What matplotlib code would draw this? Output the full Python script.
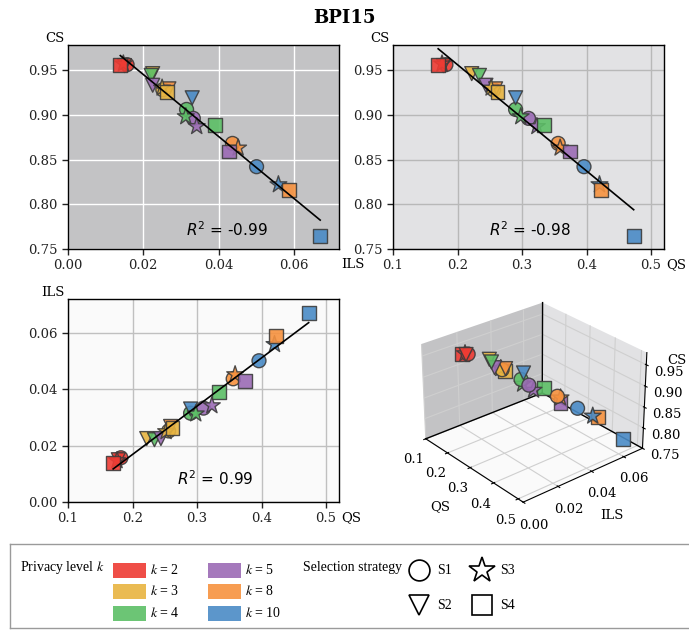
import numpy as np
import matplotlib
matplotlib.use('Agg')
import matplotlib.pyplot as plt
from matplotlib.patches import Rectangle

plt.rcParams['font.family'] = 'DejaVu Serif'
plt.rcParams['grid.color'] = '#cfcfcf'

# privacy levels (rows) and selection strategies (columns)
k_values = [2, 3, 4, 5, 8, 10]
strategies = ['S1', 'S2', 'S3', 'S4']
k_colors = ['#ee3b33', '#e8b440', '#5cbf66', '#9b6bb5', '#f7923f', '#4a8bc6']
s_markers = ['o', 'v', '*', 's']

#               S1      S2      S3      S4
qs = np.array([[0.182, 0.178, 0.176, 0.170],   # k=2
               [0.256, 0.222, 0.252, 0.262],   # k=3
               [0.290, 0.234, 0.298, 0.334],   # k=4
               [0.310, 0.244, 0.323, 0.375],   # k=5
               [0.356, 0.259, 0.359, 0.422],   # k=8
               [0.396, 0.290, 0.420, 0.473]])  # k=10

ils = np.array([[0.0157, 0.0150, 0.0147, 0.0139],
                [0.0252, 0.0225, 0.0250, 0.0262],
                [0.0315, 0.0221, 0.0313, 0.0390],
                [0.0333, 0.0225, 0.0342, 0.0428],
                [0.0437, 0.0268, 0.0452, 0.0588],
                [0.0501, 0.0330, 0.0559, 0.0670]])

cs = np.array([[0.956, 0.955, 0.957, 0.956],
               [0.928, 0.946, 0.930, 0.925],
               [0.906, 0.944, 0.898, 0.889],
               [0.896, 0.933, 0.887, 0.859],
               [0.868, 0.929, 0.863, 0.816],
               [0.842, 0.919, 0.822, 0.765]])

r_ils_cs = '-0.99'
r_qs_cs = '-0.98'
r_qs_ils = '0.99'

pane_x = '#c3c3c5'   # ILS-CS plane
pane_y = '#e2e2e4'   # QS-CS plane
pane_z = '#fafafa'   # QS-ILS plane

qs_lim, ils_lim, cs_lim = (0.1, 0.52), (0.0, 0.072), (0.75, 0.978)
qs_ticks = [0.1, 0.2, 0.3, 0.4, 0.5]
ils_ticks = [0.00, 0.02, 0.04, 0.06]
cs_ticks = [0.75, 0.80, 0.85, 0.90, 0.95]

MS = 100
EDGE = '#3c3c3c'


def panel(ax, x, y, r, face, gcolor, xlabel, ylabel, xlim, ylim, xticks, yticks,
          xfmt, yfmt, rpos):
    ax.set_facecolor(face)
    ax.grid(True, color=gcolor, lw=1.0)
    ax.set_axisbelow(True)
    for j, m in enumerate(s_markers):
        size = MS * 1.6 if m == '*' else MS
        ax.scatter(x[:, j], y[:, j], c=k_colors, marker=m, s=size,
                   edgecolors=EDGE, linewidths=1.0, alpha=0.9, zorder=3)
    slope, icpt = np.polyfit(x.ravel(), y.ravel(), 1)
    xs = np.array([x.min(), x.max()])
    ax.plot(xs, slope * xs + icpt, color='black', lw=1.2, zorder=4)
    ax.set_xlim(*xlim)
    ax.set_ylim(*ylim)
    ax.set_xticks(xticks)
    ax.set_yticks(yticks)
    ax.set_xticklabels([xfmt.format(v) for v in xticks])
    ax.set_yticklabels([yfmt.format(v) for v in yticks])
    ax.tick_params(direction='out', length=4, width=1, colors='#222222',
                   labelsize=9.5)
    for sp in ax.spines.values():
        sp.set_color('black')
        sp.set_linewidth(1.0)
    ax.set_ylabel(ylabel, rotation=0, ha='right', va='bottom', fontsize=9.5)
    ax.yaxis.set_label_coords(-0.012, 1.0)
    ax.set_xlabel(xlabel, ha='left', va='center', fontsize=9.5)
    ax.xaxis.set_label_coords(1.01, -0.078)
    ax.text(rpos[0], rpos[1], '$R^2$ = ' + r, transform=ax.transAxes,
            ha='center', va='center', fontsize=11, family='DejaVu Sans',
            math_fontfamily='dejavusans', zorder=5)


fig = plt.figure(figsize=(6.89, 6.30), dpi=100)
fig.text(0.5, 0.971, 'BPI15', ha='center', va='center', fontsize=13,
         fontweight='bold')

ax1 = fig.add_axes([68 / 689, 381 / 630, 271 / 689, 204 / 630])
panel(ax1, ils, cs, r_ils_cs, pane_x, 'white', 'ILS', 'CS', (0.0, 0.072), cs_lim,
      ils_ticks, cs_ticks, '{:.2f}', '{:.2f}', (0.587, 0.093))

ax2 = fig.add_axes([393 / 689, 381 / 630, 271 / 689, 204 / 630])
panel(ax2, qs, cs, r_qs_cs, pane_y, '#b8b8b8', 'QS', 'CS', qs_lim, cs_lim,
      qs_ticks, cs_ticks, '{:.1f}', '{:.2f}', (0.504, 0.093))

ax3 = fig.add_axes([68 / 689, 128 / 630, 271 / 689, 203 / 630])
panel(ax3, qs, ils, r_qs_ils, pane_z, '#c0c0c0', 'QS', 'ILS', qs_lim, ils_lim,
      qs_ticks, ils_ticks, '{:.1f}', '{:.2f}', (0.543, 0.113))

# 3D view
ax4 = fig.add_axes([0.562, 0.175, 0.415, 0.38], projection='3d')
for j, m in enumerate(s_markers):
    size = MS * 1.6 if m == '*' else MS
    ax4.scatter(qs[:, j], ils[:, j], cs[:, j], c=k_colors, marker=m, s=size,
                edgecolors=EDGE, linewidths=1.0, alpha=0.9, depthshade=False)
ax4.set_xlim(*qs_lim)
ax4.set_ylim(*ils_lim)
ax4.set_zlim(*cs_lim)
ax4.set_box_aspect((4, 4, 2.75))
ax4.set_xticks(qs_ticks)
ax4.set_yticks(ils_ticks)
ax4.set_zticks(cs_ticks)
ax4.set_xticklabels(['{:.1f}'.format(v) for v in qs_ticks])
ax4.set_yticklabels(['{:.2f}'.format(v) for v in ils_ticks])
ax4.set_zticklabels(['{:.2f}'.format(v) for v in cs_ticks])
ax4.tick_params(labelsize=9.5, pad=1)
ax4.xaxis.set_pane_color(pane_x)
ax4.yaxis.set_pane_color(pane_y)
ax4.zaxis.set_pane_color(pane_z)
for a in (ax4.xaxis, ax4.yaxis, ax4.zaxis):
    a.pane.set_edgecolor('none')
    a.line.set_color('black')
ax4.set_xlabel('QS', fontsize=9.5, labelpad=2)
ax4.set_ylabel('ILS', fontsize=9.5, labelpad=2)
ax4.set_zlabel('')
fig.text(667 / 689, 1 - 360 / 630, 'CS', fontsize=9.5, va='center')
# back edges of the box
x0, x1 = qs_lim
y0, y1 = ils_lim
z0, z1 = cs_lim
ax4.plot([x0, x0], [y1, y1], [z0, z1], color='black', lw=1)
ax4.plot([x0, x0], [y0, y1], [z0, z0], color='black', lw=1)
ax4.plot([x0, x1], [y1, y1], [z0, z0], color='black', lw=1)
ax4.view_init(elev=28, azim=-40)

# legend box
lax = fig.add_axes([10 / 689, 2 / 630, 682 / 689, 84 / 630])
lax.set_xlim(10, 692)
lax.set_ylim(628, 544)
lax.set_xticks([])
lax.set_yticks([])
for sp in lax.spines.values():
    sp.set_color('#9a9a9a')
    sp.set_linewidth(1.0)
lfont = dict(family='Liberation Serif', fontsize=10, math_fontfamily='stix',
             va='center')
lax.text(20, 567, 'Privacy level $k$', **lfont)
for i, (k, col) in enumerate(zip(k_values, k_colors)):
    cx = 113 if i < 3 else 208
    cy = [570, 591, 613][i % 3]
    lax.add_patch(Rectangle((cx, cy - 7.5), 33, 15, facecolor=col, alpha=0.9,
                            edgecolor='none'))
    lax.text(cx + 37, cy, '$k$ = {}'.format(k), **lfont)
lax.text(303, 567, 'Selection strategy', **lfont)
for j, (s, m) in enumerate(zip(strategies, s_markers)):
    mx = 419 if j < 2 else 482
    my = [570, 605][j % 2]
    lax.plot([mx], [my], marker=m, ms=15 if m != '*' else 19, mfc='none',
             mec='black', mew=1.2, linestyle='none')
    lax.text(mx + 18, my, s, **lfont)

fig.savefig('out.png', dpi=100)
